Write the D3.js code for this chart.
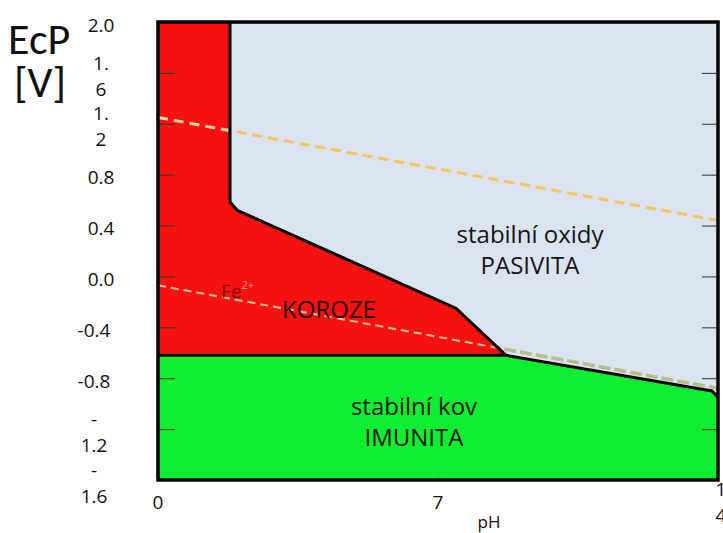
<!DOCTYPE html>
<html><head><meta charset="utf-8">
<script src="https://cdn.jsdelivr.net/npm/d3@7"></script>
<style>html,body{margin:0;padding:0;background:#fff;} svg{display:block;}</style>
</head><body>
<script>
// Axis ticks and their (wrapped) labels
const yTickValues = [2.0, 1.6, 1.2, 0.8, 0.4, 0.0, -0.4, -0.8, -1.2, -1.6];
const yTickLabels = [["2.0"], ["1.", "6"], ["1.", "2"], ["0.8"], ["0.4"], ["0.0"], ["-0.4"], ["-0.8"], ["-", "1.2"], ["-", "1.6"]];
const xTickValues = [0, 7, 14];
const xTickLabels = [["0"], ["7"], ["1", "4"]];

// Pourbaix boundaries for iron, points as [pH, E in V]
const corrosionBoundary = [[1.8, 2.0], [1.8, 0.585], [1.98, 0.52], [7.45, -0.25], [8.7, -0.62]];
const immunityBoundary = [[8.7, -0.62], [13.85, -0.9], [14, -0.95]];
const immunityLevel = -0.62;
const oxygenLine = [[0, 1.25], [14, 0.44]];
const hydrogenLine = [[0, -0.07], [14, -0.88]];

// Region names: [lines, pH, E]
const regionLabels = [
  { lines: ["stabilní oxidy", "PASIVITA"], pH: 9.3, E: 0.26 },
  { lines: ["stabilní kov", "IMUNITA"], pH: 6.4, E: -1.09 }
];

const W = 723, H = 533;
const x = d3.scaleLinear([0, 14], [158, 718]);
const y = d3.scaleLinear([-1.6, 2.0], [480, 22]);
const line = d3.line().x(d => x(d[0])).y(d => y(d[1]));

const sans = "'Open Sans', 'Noto Sans', sans-serif";
const svg = d3.select("body").append("svg").attr("width", W).attr("height", H)
  .style("font-family", sans);
svg.append("rect").attr("width", W).attr("height", H).attr("fill", "#fff");

const [x0, x1] = x.range();
const [yb, yt] = y.range();

// corrosion (red) and immunity (green) polygons
const redPoly = [[0, 2.0], ...corrosionBoundary, [0, immunityLevel]];
const greenPoly = [[0, immunityLevel], ...immunityBoundary, [14, -1.6], [0, -1.6]];

const defs = svg.append("defs");
const mask = defs.append("mask").attr("id", "outsideRed");
mask.append("rect").attr("x", 0).attr("y", 0).attr("width", W).attr("height", H).attr("fill", "#fff");
mask.append("path").attr("d", line(redPoly) + "Z").attr("fill", "#000");
defs.append("clipPath").attr("id", "insideRed").append("path").attr("d", line(redPoly) + "Z");
defs.append("clipPath").attr("id", "plotArea").append("rect")
  .attr("x", x0).attr("y", yt).attr("width", x1 - x0).attr("height", yb - yt);

const plot = svg.append("g").attr("clip-path", "url(#plotArea)");
plot.append("rect").attr("x", x0).attr("y", yt).attr("width", x1 - x0).attr("height", yb - yt).attr("fill", "#dce3f0");
plot.append("path").attr("d", line(redPoly) + "Z").attr("fill", "#f5120f");
plot.append("path").attr("d", line(greenPoly) + "Z").attr("fill", "#10ee30");

// inner tick marks on left and right
const innerY = yTickValues.slice(1, -1);
svg.append("g").attr("transform", `translate(${x0},0)`)
  .call(d3.axisRight(y).tickValues(innerY).tickSize(17).tickFormat(""))
  .call(g => g.select(".domain").remove())
  .call(g => g.selectAll("line").attr("stroke", "#333"));
svg.append("g").attr("transform", `translate(${x1},0)`)
  .call(d3.axisLeft(y).tickValues(innerY).tickSize(16).tickFormat(""))
  .call(g => g.select(".domain").remove())
  .call(g => g.selectAll("line").attr("stroke", "#333"));
svg.append("g").attr("transform", `translate(0,${yb})`)
  .call(d3.axisTop(x).tickValues([7]).tickSize(5).tickFormat(""))
  .call(g => g.select(".domain").remove())
  .call(g => g.selectAll("line").attr("stroke", "#888"));

// water stability lines (dashed)
plot.append("path").attr("d", line(oxygenLine)).attr("fill", "none")
  .attr("stroke", "#f5c65a").attr("stroke-width", 3).attr("stroke-dasharray", "10,6")
  .attr("mask", "url(#outsideRed)");
plot.append("path").attr("d", line(oxygenLine)).attr("fill", "none")
  .attr("stroke", "#f6d2b0").attr("stroke-width", 3).attr("stroke-dasharray", "10,6")
  .attr("clip-path", "url(#insideRed)");
plot.append("path").attr("d", line(hydrogenLine)).attr("fill", "none")
  .attr("stroke", "#b6bd88").attr("stroke-width", 3.5).attr("stroke-dasharray", "12,4")
  .attr("mask", "url(#outsideRed)");
plot.append("path").attr("d", line(hydrogenLine)).attr("fill", "none")
  .attr("stroke", "#e6c2a2").attr("stroke-width", 2).attr("stroke-dasharray", "8,5")
  .attr("clip-path", "url(#insideRed)");

// phase boundaries
const bnd = plot.append("g").attr("fill", "none").attr("stroke", "#000")
  .attr("stroke-width", 3).attr("stroke-linejoin", "round");
bnd.append("path").attr("d", line(corrosionBoundary));
bnd.append("path").attr("d", line([[0, immunityLevel], [8.7, immunityLevel]]));
bnd.append("path").attr("d", line(immunityBoundary));

// frame
svg.append("rect").attr("x", x0).attr("y", yt).attr("width", x1 - x0).attr("height", yb - yt)
  .attr("fill", "none").attr("stroke", "#000").attr("stroke-width", 3.5);

// y tick labels
const lh = 26;
svg.append("g").selectAll("text").data(yTickValues).join("text")
  .attr("text-anchor", "middle").attr("font-size", 19).attr("fill", "#111")
  .each(function (v, i) {
    const lines = yTickLabels[i];
    const cx = v < 0 ? 94 : 101;
    const top = y(v) + 3 - (lines.length - 1) * lh / 2;
    d3.select(this).selectAll("tspan").data(lines).join("tspan")
      .attr("x", cx).attr("y", (d, j) => top + j * lh).attr("dy", "0.35em").text(d => d);
  });

// x tick labels
svg.append("g").selectAll("text").data(xTickValues).join("text")
  .attr("text-anchor", "middle").attr("font-size", 19).attr("fill", "#111")
  .each(function (v, i) {
    const lines = xTickLabels[i];
    const cx = x(v) + (v === 14 ? 3 : 0);
    const top = yb + 22 - (lines.length - 1) * lh / 2;
    d3.select(this).selectAll("tspan").data(lines).join("tspan")
      .attr("x", cx).attr("y", (d, j) => top + j * lh).attr("dy", "0.35em").text(d => d);
  });

svg.append("text").attr("x", 489).attr("y", 528).attr("text-anchor", "middle")
  .attr("font-size", 17).attr("fill", "#111").text("pH");

// y axis title
const title = svg.append("g").attr("font-family", "Carlito, 'Open Sans', sans-serif")
  .attr("font-size", 44).attr("fill", "#111");
title.append("text").attr("x", 8).attr("y", 54).text("EcP");
title.append("text").attr("x", 14).attr("y", 97).text("[V]");

// region labels
regionLabels.forEach(r => {
  svg.append("text").attr("text-anchor", "middle").attr("font-size", 24).attr("fill", "#151515")
    .selectAll("tspan").data(r.lines).join("tspan")
    .attr("x", x(r.pH)).attr("y", (d, j) => y(r.E) + j * 31).text(d => d);
});
svg.append("text").attr("x", 329).attr("y", 318).attr("text-anchor", "middle")
  .attr("font-size", 24).attr("fill", "#2a0505").text("KOROZE");

const fe = svg.append("text").attr("x", 221).attr("y", 298).attr("font-size", 19).attr("fill", "#850a0a");
fe.append("tspan").text("Fe");
fe.append("tspan").attr("dy", -9).attr("font-size", 11).attr("fill", "#f09a9a").text("2+");
</script>
</body></html>
